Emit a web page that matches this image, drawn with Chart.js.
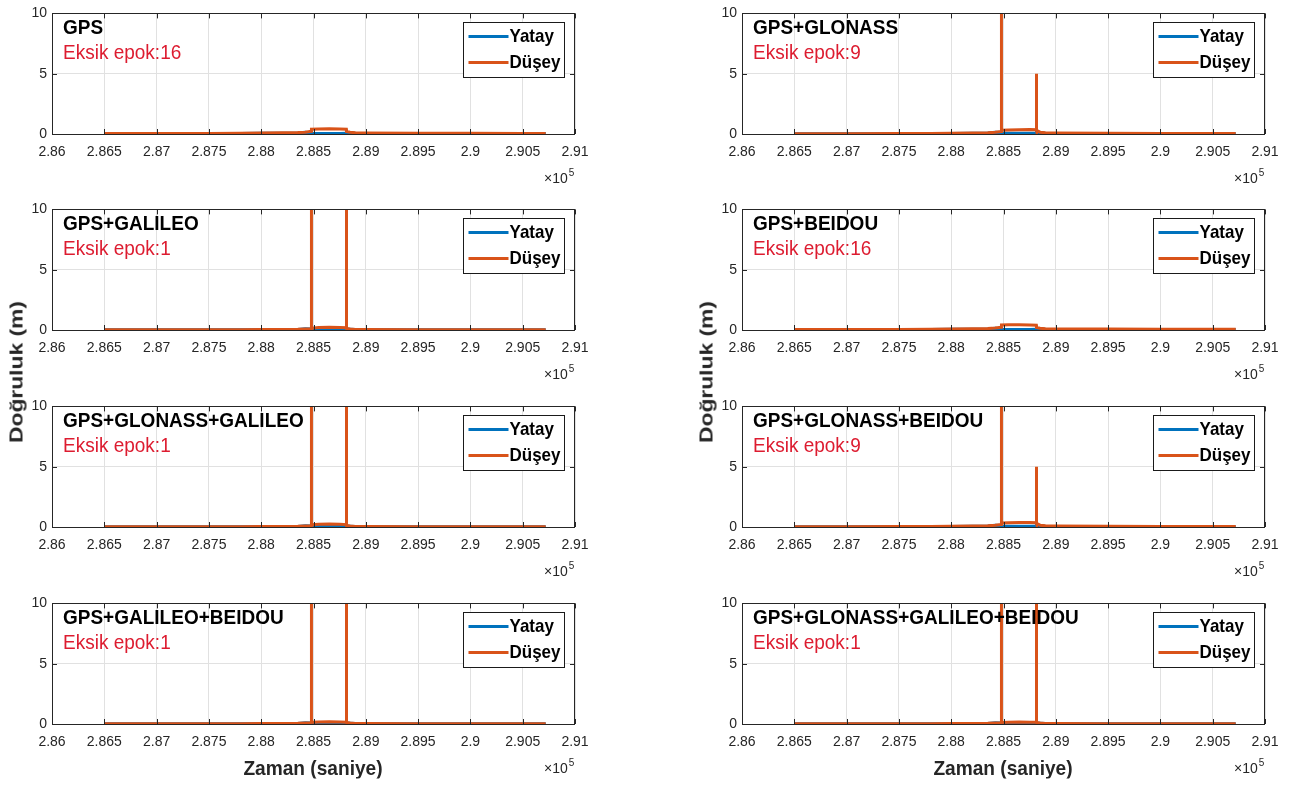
<!DOCTYPE html>
<html><head><meta charset="utf-8">
<script src="https://cdn.jsdelivr.net/npm/chart.js@4.4.1/dist/chart.umd.min.js"></script>
<style>
html,body{margin:0;padding:0;background:#fff;overflow:hidden}
#wrap{position:relative;width:1300px;height:785px;overflow:hidden}
canvas{position:absolute}
.lbl{position:absolute;font-family:"Liberation Sans",Arial,sans-serif;font-weight:bold;color:#262626;white-space:nowrap;line-height:1}
</style></head><body><div id="wrap"></div>
<script>
// ---------- data ----------
const timeSec = [286500, 287000, 287500, 287800, 288000, 288200, 288350, 288420, 288479, 288480, 288481, 288550,
                 288650, 288750, 288814, 288815, 288816, 288850, 288900, 289000, 289500, 290000, 290500, 290720];
const xTickLabels = ['2.86','2.865','2.87','2.875','2.88','2.885','2.89','2.895','2.9','2.905','2.91'];
const yTickLabels = ['0','5','10'];
const seriesNames = ['Yatay','Düşey'];
const panelTitles = ['GPS','GPS+GLONASS','GPS+GALILEO','GPS+BEIDOU',
                     'GPS+GLONASS+GALILEO','GPS+GLONASS+BEIDOU','GPS+GALILEO+BEIDOU','GPS+GLONASS+GALILEO+BEIDOU'];
const missingEpochs = [16, 9, 1, 16, 1, 9, 1, 1];

const gpsYatay = [0.03,0.03,0.04,0.05,0.06,0.07,0.08,0.14,0.10,0.07,0.05,0.05,0.05,0.05,0.06,0.14,0.10,0.08,0.06,0.05,0.04,0.04,0.04,0.04];
const gpsDusey = [0.04,0.04,0.05,0.07,0.09,0.10,0.12,0.15,0.22,0.38,0.40,0.42,0.43,0.42,0.40,0.30,0.20,0.15,0.10,0.08,0.07,0.06,0.05,0.05];

const gloYatay = [0.02,0.02,0.03,0.04,0.05,0.06,0.08,0.15,0.12,0.10,0.06,0.06,0.06,0.06,0.07,0.12,0.15,0.10,0.06,0.05,0.04,0.04,0.03,0.03];
const gloDusey = [0.03,0.03,0.04,0.05,0.06,0.08,0.10,0.14,0.20,15.0,0.32,0.34,0.36,0.38,0.36,5.0,0.30,0.15,0.10,0.08,0.06,0.05,0.05,0.04];

const galYatay = [0.02,0.02,0.02,0.02,0.03,0.04,0.05,0.10,0.08,0.06,0.05,0.05,0.05,0.05,0.05,0.10,0.08,0.06,0.04,0.03,0.02,0.02,0.02,0.02];
const galDusey = [0.03,0.03,0.03,0.03,0.04,0.05,0.06,0.08,0.10,15.0,0.15,0.20,0.22,0.20,0.18,15.0,0.12,0.08,0.05,0.04,0.03,0.03,0.03,0.03];

const beiYatay = [0.03,0.03,0.04,0.05,0.06,0.07,0.09,0.15,0.10,0.07,0.05,0.05,0.05,0.05,0.06,0.15,0.10,0.08,0.06,0.05,0.05,0.04,0.04,0.04];
const beiDusey = [0.04,0.04,0.05,0.07,0.09,0.10,0.12,0.16,0.22,0.38,0.41,0.43,0.44,0.42,0.40,0.30,0.20,0.15,0.10,0.09,0.08,0.07,0.06,0.06];

const gloGalYatay = [0.02,0.02,0.02,0.02,0.03,0.04,0.05,0.10,0.08,0.06,0.05,0.05,0.05,0.05,0.05,0.10,0.08,0.06,0.04,0.03,0.02,0.02,0.02,0.02];
const gloGalDusey = [0.03,0.03,0.03,0.03,0.04,0.05,0.06,0.08,0.10,15.0,0.18,0.22,0.25,0.22,0.20,15.0,0.12,0.08,0.05,0.04,0.03,0.03,0.03,0.03];

const gloBeiYatay = [0.02,0.02,0.03,0.04,0.05,0.06,0.08,0.15,0.12,0.10,0.06,0.06,0.06,0.06,0.07,0.12,0.15,0.10,0.06,0.05,0.04,0.04,0.03,0.03];
const gloBeiDusey = [0.03,0.03,0.04,0.05,0.06,0.08,0.10,0.14,0.20,15.0,0.33,0.35,0.38,0.38,0.35,5.0,0.30,0.15,0.10,0.08,0.06,0.05,0.05,0.04];

const galBeiYatay = [0.02,0.02,0.02,0.02,0.03,0.04,0.05,0.10,0.08,0.06,0.05,0.05,0.05,0.05,0.05,0.10,0.08,0.06,0.04,0.03,0.02,0.02,0.02,0.02];
const galBeiDusey = [0.03,0.03,0.03,0.03,0.04,0.05,0.06,0.08,0.10,15.0,0.14,0.17,0.19,0.17,0.15,15.0,0.12,0.08,0.05,0.04,0.03,0.03,0.03,0.03];

const allYatay = [0.02,0.02,0.02,0.02,0.03,0.04,0.05,0.10,0.08,0.06,0.05,0.05,0.05,0.05,0.05,0.10,0.08,0.06,0.04,0.03,0.02,0.02,0.02,0.02];
const allDusey = [0.03,0.03,0.03,0.03,0.04,0.05,0.06,0.08,0.10,15.0,0.13,0.15,0.17,0.15,0.14,15.0,0.12,0.08,0.05,0.04,0.03,0.03,0.03,0.03];

const panelYatay = [gpsYatay, gloYatay, galYatay, beiYatay, gloGalYatay, gloBeiYatay, galBeiYatay, allYatay];
const panelDusey = [gpsDusey, gloDusey, galDusey, beiDusey, gloGalDusey, gloBeiDusey, galBeiDusey, allDusey];

// ---------- style / layout ----------
const BLUE = '#0072BD', ORANGE = '#D95319', AX = '#262626', RED = '#DD1C30';
const rowTops = [11, 207, 404, 601];
const colLefts = [0, 690];
const CW = 610, CH = 196;

const hasNarrow = (() => {
  const c = document.createElement('canvas').getContext('2d');
  c.font = '40px monospace'; const w1 = c.measureText('abcdefghij2.865').width;
  c.font = '40px "Liberation Sans Narrow", monospace'; const w2 = c.measureText('abcdefghij2.865').width;
  return Math.abs(w1 - w2) > 1;
})();
const tickFont = hasNarrow ? {family: '"Liberation Sans Narrow"', size: 16} : {family: '"Liberation Sans", Arial', size: 14};

function stretchText(ctx, text, x, y, font, sy, align) {
  ctx.save();
  ctx.translate(x, y);
  ctx.scale(1, sy);
  ctx.font = font;
  ctx.textAlign = align || 'left';
  ctx.fillText(text, 0, 0);
  ctx.restore();
}

const decor = {
  id: 'decor',
  afterDatasetsDraw(chart, args, opts) {
    const {ctx, chartArea: a, scales: {x, y}} = chart;
    ctx.save();
    ctx.strokeStyle = AX; ctx.lineWidth = 1;
    ctx.beginPath();
    x.ticks.forEach(t => {
      const px = Math.round(x.getPixelForValue(t.value)) + 0.5;
      ctx.moveTo(px, a.bottom); ctx.lineTo(px, a.bottom - 5);
      ctx.moveTo(px, a.top); ctx.lineTo(px, a.top + 5);
    });
    y.ticks.forEach(t => {
      const py = Math.round(y.getPixelForValue(t.value)) + 0.5;
      ctx.moveTo(a.left, py); ctx.lineTo(a.left + 5, py);
      ctx.moveTo(a.right, py); ctx.lineTo(a.right - 5, py);
    });
    ctx.stroke();
    ctx.strokeRect(Math.round(a.left) + 0.5, Math.round(a.top) + 0.5, Math.round(a.width) - 1, Math.round(a.height));

    // title texts
    ctx.textBaseline = 'alphabetic';
    ctx.fillStyle = '#000';
    stretchText(ctx, opts.title, a.left + 11, a.top + 21, 'bold 19px "Liberation Sans", Arial', 1.03);
    ctx.fillStyle = RED;
    stretchText(ctx, 'Eksik epok:' + opts.missing, a.left + 11, a.top + 46, '19px "Liberation Sans", Arial', 1.08);

    // legend
    const bx = Math.round(a.right - 112) + 0.5, by = Math.round(a.top + 9) + 0.5, bw = 101, bh = 55;
    ctx.fillStyle = '#fff';
    ctx.fillRect(bx, by, bw, bh);
    ctx.strokeStyle = '#1a1a1a'; ctx.lineWidth = 1;
    ctx.strokeRect(bx, by, bw, bh);
    const items = [[seriesNames[0], BLUE, 14], [seriesNames[1], ORANGE, 40]];
    items.forEach(([name, col, dy]) => {
      ctx.strokeStyle = col; ctx.lineWidth = 3;
      ctx.beginPath(); ctx.moveTo(bx + 5, by + dy); ctx.lineTo(bx + 45, by + dy); ctx.stroke();
      ctx.fillStyle = '#000';
      ctx.textBaseline = 'middle';
      stretchText(ctx, name, bx + 46, by + dy, 'bold 17px "Liberation Sans", Arial', 1.12);
    });

    // exponent
    ctx.fillStyle = AX;
    ctx.textBaseline = 'middle';
    ctx.font = '14px "Liberation Sans", Arial';
    ctx.textAlign = 'left';
    const ex = a.right - 31, ey = a.bottom + 45;
    ctx.fillText('\u00d710', ex, ey);
    const w = ctx.measureText('\u00d710').width;
    ctx.font = '10px "Liberation Sans", Arial';
    ctx.fillText('5', ex + w + 1, ey - 6);
    ctx.restore();
  }
};

Chart.defaults.font.family = '"Liberation Sans", Arial, sans-serif';
Chart.defaults.color = AX;

const wrap = document.getElementById('wrap');
for (let i = 0; i < 8; i++) {
  const r = Math.floor(i / 2), c = i % 2;
  const cv = document.createElement('canvas');
  cv.width = CW; cv.height = CH;
  cv.style.width = CW + 'px'; cv.style.height = CH + 'px';
  cv.style.left = colLefts[c] + 'px';
  cv.style.top = (rowTops[r] - 11) + 'px';
  wrap.appendChild(cv);
  const toPts = arr => arr.map((v, k) => ({x: timeSec[k], y: v}));
  new Chart(cv, {
    type: 'line',
    data: {
      datasets: [
        {label: seriesNames[0], data: toPts(panelYatay[i]), borderColor: BLUE, borderWidth: 3, order: 2, clip: 0},
        {label: seriesNames[1], data: toPts(panelDusey[i]), borderColor: ORANGE, borderWidth: 3, order: 1, clip: 0}
      ]
    },
    options: {
      responsive: false, animation: false, devicePixelRatio: 1,
      parsing: false, normalized: true,
      elements: {point: {radius: 0}, line: {tension: 0, borderJoinStyle: 'miter', borderCapStyle: 'butt'}},
      layout: {padding: {top: 11, right: CW - 575, left: 0, bottom: 0}},
      plugins: {
        legend: {display: false}, tooltip: {enabled: false},
        decor: {title: panelTitles[i], missing: missingEpochs[i]}
      },
      scales: {
        x: {
          type: 'linear', min: 286000, max: 291000,
          afterFit: s => { s.height = 62; },
          grid: {color: '#e1e1e1', drawTicks: false, lineWidth: 1},
          border: {display: false},
          ticks: {stepSize: 500, autoSkip: false, maxRotation: 0, padding: 10, color: AX, font: tickFont,
                  callback: (v, idx) => xTickLabels[idx]}
        },
        y: {
          type: 'linear', min: 0, max: 10,
          afterFit: s => { s.width = 52; },
          grid: {color: '#e1e1e1', drawTicks: false, lineWidth: 1},
          border: {display: false},
          ticks: {stepSize: 5, padding: 5, color: AX, font: tickFont,
                  callback: (v, idx) => yTickLabels[idx]}
        }
      }
    },
    plugins: [decor]
  });
}

// axis labels (HTML text)
function addLabel(text, cx, cy, size, transform) {
  const d = document.createElement('div');
  d.className = 'lbl';
  d.textContent = text;
  d.style.fontSize = size + 'px';
  d.style.left = cx + 'px'; d.style.top = cy + 'px';
  d.style.transform = 'translate(-50%,-50%) ' + transform;
  wrap.appendChild(d);
}
addLabel('Doğruluk (m)', 16, 372, 19, 'rotate(-90deg) scaleX(1.2)');
addLabel('Doğruluk (m)', 706, 372, 19, 'rotate(-90deg) scaleX(1.2)');
addLabel('Zaman (saniye)', 313, 767, 21, 'scaleX(0.91)');
addLabel('Zaman (saniye)', 1003, 767, 21, 'scaleX(0.91)');
</script>
</body></html>
